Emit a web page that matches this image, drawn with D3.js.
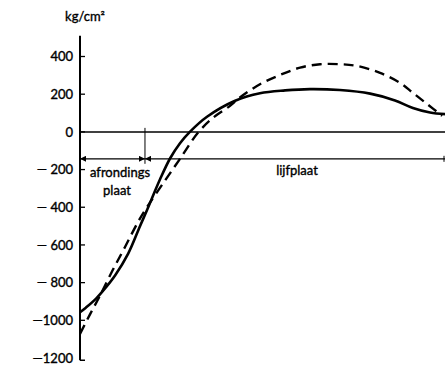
<!DOCTYPE html>
<html><head><meta charset="utf-8">
<script src="https://cdn.jsdelivr.net/npm/d3@7"></script>
<style>body{margin:0;background:#fff}svg{display:block}text{font-family:Lato,"Open Sans",sans-serif;fill:#000;stroke:#000;stroke-width:0.35px}</style>
</head><body>
<svg id="c" width="445" height="376"></svg>
<script>
// position along girder (arbitrary units 0..100), stress in kg/cm²
const solidX = [0, 1.6, 4.4, 7.1, 9.6, 13.2, 16.4, 18.4, 21.9, 24.7, 27.4, 30.1, 34.8, 42.5, 49.3, 56.2, 63.0, 71.2, 79.5, 86.3, 91.2, 95.9, 100];
const solidY = [-957, -933, -885, -825, -762, -646, -502, -413, -253, -140, -60, 0, 80, 165, 205, 220, 227, 222, 203, 167, 127, 103, 94];
const dashX = [0, 2.7, 5.5, 8.8, 12.3, 15.9, 18.4, 23.3, 27.4, 32.3, 36.4, 41.1, 43.8, 49.3, 54.8, 60.3, 65.8, 71.2, 75.9, 82.2, 87.7, 91.2, 95.1, 99.2];
const dashY = [-1072, -970, -868, -740, -612, -478, -398, -258, -143, -5, 74, 138, 182, 253, 302, 341, 359, 359, 350, 313, 260, 207, 148, 85];
const tickValues = [400, 200, 0, -200, -400, -600, -800, -1000, -1200];
const tickLabels = ["400", "200", "0", "— 200", "— 400", "— 600", "— 800", "—1000", "—1200"];
const unitLabel = "kg/cm²";
const zoneSplit = 17.8;      // boundary afrondingsplaat / lijfplaat
const zoneLevel = -143;      // level of dimension arrows
const zoneLabels = ["afrondings", "plaat", "lijfplaat"];

const svg = d3.select("#c");
const x = d3.scaleLinear().domain([0, 100]).range([80, 445]);
const y = d3.scaleLinear().domain([400, -1200]).range([56.5, 358]);

const defs = svg.append("defs");
defs.append("marker").attr("id", "ah").attr("viewBox", "0 0 10 10").attr("refX", 10).attr("refY", 5)
  .attr("markerWidth", 10).attr("markerHeight", 6).attr("markerUnits", "userSpaceOnUse").attr("orient", "auto-start-reverse")
  .append("path").attr("d", "M0,0 L10,5 L0,10 Z").attr("fill", "#000");

// axis
const x0 = x(0);
svg.append("line").attr("x1", x0).attr("x2", x0).attr("y1", y(510)).attr("y2", y(-1212)).attr("stroke", "#000").attr("stroke-width", 2);
svg.append("line").attr("x1", x0).attr("x2", x0 + 5).attr("y1", y(-1212)).attr("y2", y(-1212)).attr("stroke", "#000").attr("stroke-width", 1.5);
tickValues.forEach((v, i) => {
  if (v !== -1200) svg.append("line").attr("x1", x0).attr("x2", x0 + 5).attr("y1", y(v)).attr("y2", y(v)).attr("stroke", "#000").attr("stroke-width", 1.3);
  svg.append("text").attr("x", x0 - 7).attr("y", y(v)).attr("dy", "0.36em").attr("text-anchor", "end")
    .attr("font-size", 13).text(tickLabels[i]);
});
svg.append("text").attr("x", x0 + 5).attr("y", 21).attr("text-anchor", "middle").attr("font-size", 13).text(unitLabel);

// zero line
svg.append("line").attr("x1", x0).attr("x2", x(100)).attr("y1", y(0)).attr("y2", y(0)).attr("stroke", "#000").attr("stroke-width", 1.5);

// dimension lines
svg.append("line").attr("x1", x(zoneSplit)).attr("x2", x(zoneSplit)).attr("y1", y(0) - 4).attr("y2", y(zoneLevel) + 5).attr("stroke", "#000").attr("stroke-width", 1);
svg.append("line").attr("x1", x(zoneSplit)).attr("x2", x0).attr("y1", y(zoneLevel)).attr("y2", y(zoneLevel))
  .attr("stroke", "#000").attr("stroke-width", 1.3).attr("marker-start", "url(#ah)").attr("marker-end", "url(#ah)");
svg.append("line").attr("x1", x(100)).attr("x2", x(zoneSplit)).attr("y1", y(zoneLevel)).attr("y2", y(zoneLevel))
  .attr("stroke", "#000").attr("stroke-width", 1.3).attr("marker-end", "url(#ah)");
svg.append("line").attr("x1", x(100) - 1).attr("x2", x(100) - 1).attr("y1", y(zoneLevel) - 3).attr("y2", y(zoneLevel) + 3).attr("stroke", "#000").attr("stroke-width", 1);

svg.append("text").attr("x", 120).attr("y", 177).attr("text-anchor", "middle").attr("font-size", 13).text(zoneLabels[0]);
svg.append("text").attr("x", 117).attr("y", 195).attr("text-anchor", "middle").attr("font-size", 13).text(zoneLabels[1]);
svg.append("text").attr("x", 297).attr("y", 175).attr("text-anchor", "middle").attr("font-size", 13).text(zoneLabels[2]);

// curves
const line = d3.line().x(d => x(d[0])).y(d => y(d[1])).curve(d3.curveCatmullRom.alpha(0.5));
svg.append("path").datum(solidX.map((v, i) => [v, solidY[i]])).attr("d", line)
  .attr("fill", "none").attr("stroke", "#000").attr("stroke-width", 2.6);
svg.append("path").datum(dashX.map((v, i) => [v, dashY[i]])).attr("d", line)
  .attr("fill", "none").attr("stroke", "#000").attr("stroke-width", 2.4).attr("stroke-dasharray", "10,6");
</script>
</body></html>
